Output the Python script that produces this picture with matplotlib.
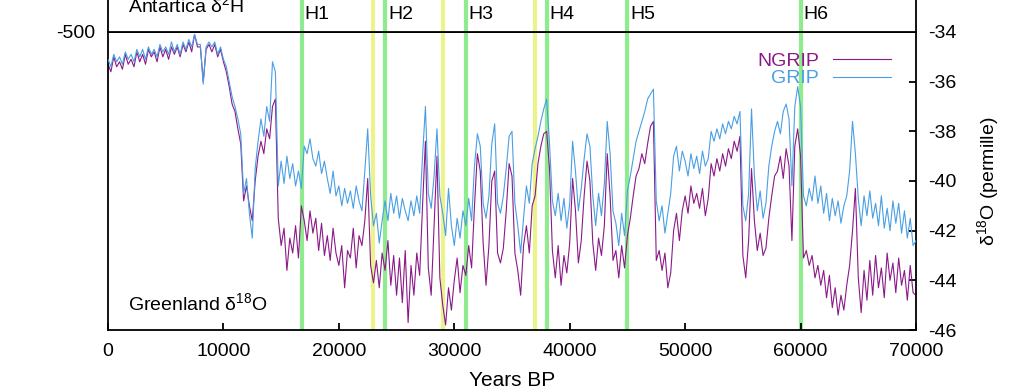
import numpy as np
import matplotlib.pyplot as plt

plt.rcParams['font.family'] = ['Liberation Sans', 'DejaVu Sans']
plt.rcParams['font.size'] = 14
plt.rcParams['axes.unicode_minus'] = False
plt.rcParams['mathtext.fontset'] = 'custom'
plt.rcParams['mathtext.rm'] = 'Liberation Sans'

# d18O (permille), 250-year samples from 0 to 70000 yr BP, one row per 1000 yr
ngrip = [
    -35.3, -35.6, -35.0, -35.4,
    -35.2, -35.5, -34.9, -35.3,
    -35.1, -35.4, -34.8, -35.2,
    -34.9, -35.3, -34.7, -35.0,
    -34.8, -35.2, -34.6, -35.0,
    -34.7, -35.1, -34.6, -34.9,
    -34.6, -35.0, -34.5, -34.8,
    -34.4, -34.8, -34.1, -34.6,
    -34.6, -36.0, -34.7, -34.5,
    -34.8, -34.5, -35.0, -34.7,
    -35.2, -35.6, -36.2, -36.9,
    -37.2, -37.9, -38.5, -40.8,
    -40.2, -41.0, -41.6, -40.0,
    -39.0, -38.4, -38.9, -37.9,
    -38.3, -37.0, -36.7, -41.5,
    -42.6, -41.9, -43.6, -42.3,
    -42.9, -41.8, -43.1, -41.0,
    -41.6, -42.4, -41.2, -42.1,
    -41.5, -42.8, -41.7, -43.0,
    -42.2, -43.2, -41.9, -42.9,
    -43.4, -42.6, -44.3, -42.8,
    -43.1, -41.9, -43.5, -42.2,
    -42.6, -41.6, -39.9, -43.4,
    -44.1, -43.2, -44.3, -42.9,
    -43.6, -42.4, -44.2, -43.0,
    -44.6, -43.1, -44.9, -42.8,
    -45.7, -43.4, -44.6, -42.9,
    -43.8, -41.0, -38.4, -43.5,
    -44.6, -41.8, -39.0, -43.9,
    -45.0, -45.8, -44.3, -45.2,
    -44.0, -43.1, -44.5, -43.4,
    -43.8, -42.6, -43.5, -41.0,
    -38.9, -39.6, -42.5, -44.2,
    -42.6, -40.0, -39.6, -42.9,
    -43.3, -42.7, -41.2, -39.3,
    -39.8, -42.9, -43.6, -44.6,
    -42.6, -41.8, -42.9, -41.0,
    -40.6, -39.3, -38.6, -38.1,
    -38.0, -39.5, -42.8, -43.9,
    -42.6, -44.2, -43.0, -43.7,
    -42.5, -39.9, -41.2, -43.3,
    -42.4, -40.6, -39.2, -40.0,
    -42.5, -43.6, -42.3, -43.0,
    -41.8, -38.9, -40.6, -43.2,
    -42.8, -43.9, -42.6, -43.5,
    -42.2, -41.5, -40.6, -39.8,
    -39.5, -38.9, -39.3, -38.5,
    -37.8, -37.6, -43.2, -42.8,
    -43.6, -42.9, -44.3, -43.7,
    -42.0, -41.3, -42.4, -41.2,
    -40.6, -41.3, -40.2, -40.9,
    -40.5, -41.1, -40.3, -41.4,
    -40.7, -39.3, -39.8, -39.1,
    -39.6, -38.9, -39.4, -38.7,
    -39.1, -38.4, -38.8, -38.2,
    -43.0, -43.9, -42.4, -39.5,
    -41.6, -42.8, -42.1, -43.0,
    -42.7, -41.5, -40.6, -39.8,
    -39.6, -39.0, -39.9, -38.7,
    -39.4, -42.4, -38.6, -37.9,
    -39.0, -43.1, -42.8, -43.4,
    -43.0, -43.9, -43.4, -44.2,
    -43.6, -44.7, -43.8, -45.1,
    -44.3, -45.4, -44.6, -45.2,
    -44.2, -43.4, -42.0, -40.3,
    -43.9, -45.3, -43.6, -44.8,
    -43.2, -44.6, -43.0, -44.3,
    -43.5, -44.7, -42.9, -44.0,
    -43.3, -44.5, -43.1, -44.2,
    -43.6, -44.8, -43.4, -44.5,
    -44.6,
]

grip = [
    -35.1, -35.4, -34.9, -35.2,
    -35.0, -35.3, -34.8, -35.1,
    -34.9, -35.2, -34.7, -35.0,
    -34.7, -35.1, -34.6, -34.9,
    -34.7, -35.0, -34.5, -34.8,
    -34.6, -34.9, -34.4, -34.8,
    -34.5, -34.9, -34.4, -34.7,
    -34.3, -34.6, -34.1, -34.5,
    -34.5, -36.1, -34.6, -34.4,
    -34.6, -34.4, -34.9, -34.6,
    -35.1, -35.4, -36.0, -36.6,
    -37.0, -37.5, -38.1, -40.5,
    -39.9, -41.3, -42.3, -39.5,
    -38.4, -37.5, -38.2, -37.0,
    -37.6, -35.2, -35.6, -40.2,
    -39.2, -40.1, -39.0, -39.9,
    -39.3, -40.2, -39.6, -40.3,
    -38.6, -38.9, -38.3, -39.1,
    -39.4, -38.8, -39.7, -39.2,
    -39.9, -40.5, -39.6, -40.6,
    -40.2, -41.0, -40.3, -40.9,
    -40.4, -41.1, -40.2, -40.8,
    -41.2, -39.6, -37.9, -40.6,
    -41.8, -41.3, -42.5, -41.6,
    -40.8, -41.6, -40.5, -41.3,
    -40.6, -41.5, -40.7, -41.2,
    -41.6, -40.8, -41.4, -40.6,
    -41.3, -39.0, -37.0, -40.5,
    -41.1, -39.8, -37.9, -40.6,
    -41.3, -42.2, -40.3, -41.8,
    -42.6, -41.5, -42.3, -41.2,
    -41.8, -40.7, -41.6, -39.4,
    -38.1, -38.6, -40.9, -41.5,
    -40.6, -38.5, -37.7, -40.9,
    -41.3, -40.6, -39.5, -38.2,
    -38.0, -40.9, -41.8, -42.9,
    -41.5, -40.2, -40.9, -39.3,
    -38.7, -38.2, -37.6, -37.1,
    -36.7, -38.5, -40.8, -41.4,
    -40.5, -41.6, -40.7, -41.9,
    -40.9, -38.4, -39.6, -41.2,
    -40.3, -39.1, -38.1, -38.6,
    -40.6, -41.8, -40.5, -41.4,
    -40.1, -37.6, -38.9, -41.2,
    -41.7, -42.6, -41.3, -42.2,
    -40.4, -39.8, -39.1, -38.4,
    -38.0, -37.6, -37.2, -36.7,
    -36.5, -36.3, -40.8, -41.6,
    -41.0, -42.1, -41.3, -40.5,
    -39.0, -38.6, -39.6, -38.8,
    -39.2, -39.8, -38.9, -39.5,
    -39.0, -39.7, -38.8, -39.4,
    -39.1, -38.0, -38.4, -37.9,
    -38.3, -37.7, -38.1, -37.6,
    -37.9, -37.4, -37.7, -37.2,
    -41.0, -41.6, -40.5, -37.1,
    -39.8, -41.2, -40.4, -41.5,
    -40.9, -39.4, -38.6, -38.0,
    -37.6, -38.1, -37.2, -36.9,
    -37.5, -40.2, -37.0, -36.2,
    -37.0, -40.6, -41.0, -40.3,
    -40.8, -39.8, -40.9, -40.2,
    -41.3, -40.5, -41.6, -40.7,
    -41.4, -40.8, -41.7, -41.0,
    -40.6, -39.6, -37.6, -38.9,
    -40.7, -41.8, -40.6, -41.4,
    -40.4, -41.5, -40.9, -41.8,
    -40.6, -41.9, -41.1, -42.0,
    -40.8, -41.7, -40.9, -42.1,
    -41.2, -42.3, -41.5, -42.6,
    -42.4,
]

heinrich_labels = ['H1', 'H2', 'H3', 'H4', 'H5', 'H6']
heinrich_ages = [16800, 24000, 31000, 38000, 45000, 60000]
yellow_ages = [23000, 29000, 37000]

ages = np.arange(len(ngrip)) * 250

fig = plt.figure(figsize=(10.24, 3.91), dpi=100)
ax = fig.add_axes([0.10547, 0.15601, 0.78906, 0.76215])
top = fig.add_axes([0.10547, 0.91816, 0.78906, 0.30])

for a in (ax, top):
    for t in yellow_ages:
        a.axvline(t, color='#ecf38a', lw=3, zorder=1)
    for t in heinrich_ages:
        a.axvline(t, color='#8eec8e', lw=3, zorder=1)
    for s in a.spines.values():
        s.set_linewidth(1.3)

ax.plot(ages, ngrip, color='#8b1a89', lw=0.8, label='NGRIP', zorder=2)
ax.plot(ages, grip, color='#4a9fe3', lw=0.8, label='GRIP', zorder=3)

ax.set_xlim(0, 70000)
ax.set_ylim(-46, -34)
ax.set_xticks(range(0, 70001, 10000))
ax.set_yticks(range(-46, -33, 2))
ax.yaxis.tick_right()
ax.tick_params(axis='x', direction='in', length=5, width=1.3, pad=9)
ax.tick_params(axis='y', direction='in', length=5, width=1.3, pad=9)
ax.set_xlabel('Years BP', fontsize=15)
ax.xaxis.set_label_coords(0.5, -0.168)
ax.xaxis.label.set_va('center')
ax.yaxis.set_label_position('right')
ax.set_ylabel(r'$\mathregular{\delta^{18}}$O (permille)', rotation=90)
ax.yaxis.set_label_coords(1.089, 0.5)
ax.yaxis.label.set_va('center')
ax.yaxis.label.set_ha('center')
ax.text(0.025, 0.067, r'Greenland $\mathregular{\delta^{18}}$O', transform=ax.transAxes,
        ha='left', va='baseline')

ax.legend(loc='upper right', bbox_to_anchor=(0.981, 0.965), frameon=False,
          markerfirst=False, labelcolor='linecolor', handlelength=3.0,
          handletextpad=0.7, labelspacing=0.0, borderpad=0)

top.set_xlim(0, 70000)
top.set_ylim(-500, -300)
top.set_xticks([])
top.set_yticks([-500])
top.tick_params(axis='y', length=0, pad=9)
top.spines['top'].set_visible(False)
top.text(0.025, 0.171, r'Antartica $\mathregular{\delta^{2}}$H', transform=top.transAxes,
         ha='left', va='baseline')
for lab, t in zip(heinrich_labels, heinrich_ages):
    top.text(t + 250, 0.108, lab, transform=top.get_xaxis_transform(),
             ha='left', va='baseline')

fig.savefig('out.png', dpi=100)
